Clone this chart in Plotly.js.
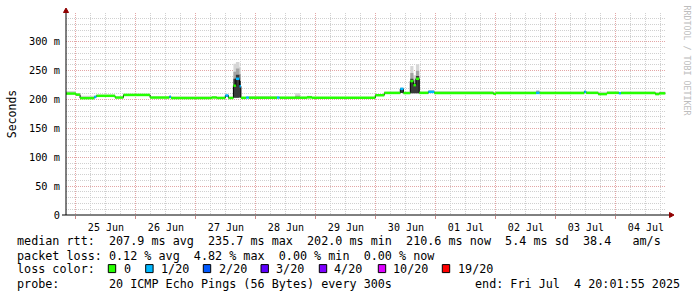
<!DOCTYPE html>
<html><head><meta charset="utf-8">
<script src="https://cdn.plot.ly/plotly-3.0.1.min.js"></script>
<style>html,body{margin:0;padding:0;background:#fff;}#chart{width:697px;height:297px;}</style>
</head><body><div id="chart"></div>
<script>
// ---------------- DATA ----------------
const rangeStart = '2025-06-24 20:01:55';
const rangeEnd = '2025-07-04 20:01:55';
const dataEnd = '2025-07-04 19:45';

const times = [
 '2025-06-24 20:02','2025-06-25 00:00','2025-06-25 01:40','2025-06-25 07:20','2025-06-25 08:10',
 '2025-06-25 15:40','2025-06-25 19:00','2025-06-26 05:40','2025-06-26 13:25','2025-06-26 14:00',
 '2025-06-27 06:20','2025-06-27 08:20','2025-06-27 11:45','2025-06-27 13:00','2025-06-27 15:00',
 '2025-06-27 16:00','2025-06-27 17:25','2025-06-27 18:00','2025-06-27 20:05','2025-06-27 21:10',
 '2025-06-28 08:25','2025-06-28 09:25','2025-06-28 15:40','2025-06-28 17:40','2025-06-28 20:25',
 '2025-06-28 22:25','2025-06-29 23:45','2025-06-30 03:20','2025-06-30 09:45','2025-06-30 11:00',
 '2025-06-30 13:45','2025-06-30 15:00','2025-06-30 16:00','2025-06-30 17:20','2025-06-30 21:00',
 '2025-06-30 23:20','2025-07-01 23:00','2025-07-02 00:00','2025-07-02 16:05','2025-07-02 17:25',
 '2025-07-03 11:20','2025-07-03 12:05','2025-07-03 16:55','2025-07-03 20:25','2025-07-04 01:10',
 '2025-07-04 02:00','2025-07-04 15:45','2025-07-04 17:20'
];
// median rtt (ms)
const median = [
 210.4,208.5,202.5,204.5,206.5, 203.5,208.0,203.5,205.0,202.8,
 203.6,202.8,207.0,202.8,224.0, 236.0,223.0,203.0,203.5,203.2,
 203.5,203.2,203.2,203.2,203.8, 203.0,207.5,211.5,218.5,211.3,
 232.0,225.0,236.0,211.6,213.3, 211.6,210.0,211.6,211.6,211.6,
 213.5,211.6,209.5,211.6,211.0, 211.6,209.5,210.8
];
// lost pings out of 20
const loss = [
 0,0,0,1,0, 0,0,0,1,0,
 0,0,1,0,0, 1,1,0,1,0,
 1,0,0,0,0, 0,0,0,1,0,
 0,0,0,0,1, 0,0,0,1,0,
 1,0,0,0,1, 0,0,0
];
// smoke (ping distribution) bounds, ms
const smokeLow = [
 210.4,208.5,202.5,204.5,206.5, 203.5,208.0,203.5,205.0,202.8,
 203.6,202.8,205.0,202.8,203.0, 203.0,204.0,203.0,203.5,203.2,
 203.5,203.2,203.2,203.2,203.8, 203.0,207.5,211.5,211.5,211.3,
 211.0,211.0,211.0,211.6,211.6, 211.6,210.0,211.6,211.6,211.6,
 211.6,211.6,209.5,211.6,211.0, 211.6,209.5,210.8
];
const smokeHigh = [
 215.0,211.0,206.5,207.0,208.5, 205.5,210.0,205.5,207.0,205.2,
 205.8,204.8,210.0,204.8,262.0, 265.0,257.0,205.0,205.5,206.0,
 205.5,204.8,211.0,204.8,206.5, 204.6,209.5,213.8,221.0,213.5,
 258.0,242.0,261.0,214.0,216.5, 215.0,212.5,214.0,216.5,213.8,
 215.5,214.0,213.5,214.5,213.5, 214.0,213.0,214.0
];
const smokeMid = [
 210.4,208.5,202.5,204.5,206.5, 203.5,208.0,203.5,205.0,202.8,
 203.6,202.8,208.0,202.8,248.0, 254.0,244.0,203.0,203.5,203.2,
 203.5,203.2,206.5,203.2,205.8, 203.0,207.5,211.5,219.0,211.3,
 246.0,234.0,250.0,211.6,215.5, 211.6,210.0,211.6,215.0,211.6,
 215.0,211.6,209.5,211.6,211.0, 211.6,209.5,210.8
];
const smokeCore = [
 210.4,208.5,202.5,204.5,206.5, 203.5,208.0,203.5,205.0,202.8,
 203.6,202.8,207.0,202.8,236.0, 243.0,232.0,203.0,203.5,203.2,
 203.5,203.2,203.2,203.2,203.8, 203.0,207.5,211.5,218.5,211.3,
 236.0,228.0,241.0,211.6,213.3, 211.6,210.0,211.6,211.6,211.6,
 214.0,211.6,209.5,211.6,211.0, 211.6,209.5,210.8
];

const yTickVals = [0, 50, 100, 150, 200, 250, 300];
const yTickText = ['0', '50 m', '100 m', '150 m', '200 m', '250 m', '300 m'];

const lossLevels = [0, 1, 2, 3, 4, 10, 19];
const lossLabels = ['0', '1/20', '2/20', '3/20', '4/20', '10/20', '19/20'];
const lossColors = ['#26ff00', '#00b8ff', '#0059ff', '#5e00ff', '#7e00ff', '#dd00ff', '#ff0000'];

const rttStats = ['207.9', '235.7', '202.0', '210.6', '5.4', '38.4'];
const lossStats = ['0.12', '4.82', '0.00', '0.00'];
const probeText = '20 ICMP Echo Pings (56 Bytes) every 300s';
const endText = 'end: Fri Jul  4 20:01:55 2025';
const watermark = 'RRDTOOL / TOBI OETIKER';

// ---------------- BUILD ----------------
const xs = times.concat([dataEnd]);
const ext = a => a.concat([a[a.length - 1]]);
const traces = [];
function band(lo, hi, color) {
  traces.push({x: xs, y: ext(lo), mode: 'lines', line: {shape: 'hv', width: 0}, hoverinfo: 'skip', showlegend: false});
  traces.push({x: xs, y: ext(hi), mode: 'lines', line: {shape: 'hv', width: 0}, fill: 'tonexty', fillcolor: color, hoverinfo: 'skip', showlegend: false});
}
band(smokeLow, smokeHigh, '#d6d6d6');
band(smokeLow, smokeMid, '#a4a4a4');
band(smokeLow, smokeCore, '#3a3a3a');
traces.push({x: xs, y: ext(median), mode: 'lines', line: {shape: 'hv', width: 1, color: '#000'}, hoverinfo: 'skip', showlegend: false});
lossLevels.forEach((lv, k) => {
  const sx = [], sy = [];
  for (let i = 0; i < times.length; i++) {
    if (loss[i] === lv) { sx.push(times[i], xs[i + 1], null); sy.push(median[i], median[i], null); }
  }
  if (sx.length) traces.push({x: sx, y: sy, mode: 'lines', line: {width: 2.5, color: lossColors[k]}, connectgaps: false, hoverinfo: 'skip', showlegend: false});
});

// ---------------- LAYOUT ----------------
const PL = 66, PW = 600, PT = 13, PH = 202;
const px = v => (v - PL) / PW;
const py = v => (PT + PH - v) / PH;
const MONO = 'DejaVu Sans Mono';
const S = s => s.replace(/ /g, '\u00a0');
const txt = (x, y, t, anchor) => ({xref: 'paper', yref: 'paper', x: px(x), y: py(y), text: S(t), showarrow: false,
  xanchor: anchor || 'left', yanchor: 'middle', font: {family: MONO, size: 11.75, color: '#000'}, borderpad: 0});

const ann = [];
ann.push(txt(16, 241.5, 'median rtt:  ' + rttStats[0] + ' ms avg  ' + rttStats[1] + ' ms max  ' + rttStats[2] + ' ms min  ' +
  rttStats[3] + ' ms now  ' + rttStats[4] + ' ms sd  ' + rttStats[5] + '   am/s'));
ann.push(txt(16, 255.5, 'packet loss: ' + lossStats[0] + ' % avg  ' + lossStats[1] + ' % max  ' + lossStats[2] + ' % min  ' + lossStats[3] + ' % now'));
ann.push(txt(16, 269, 'loss color:'));
ann.push(txt(16, 283.5, 'probe:       ' + probeText));
ann.push(txt(681, 283.5, endText, 'right'));
const boxX = [108.3, 145.7, 203.3, 261, 319.3, 378.3, 442.3];
const labX = [122.7, 160, 217.7, 275, 333.3, 392.3, 456.7];
const shapes = [];
lossLabels.forEach((l, k) => {
  ann.push(txt(labX[k], 269, l));
  shapes.push({type: 'rect', xref: 'paper', yref: 'paper', x0: px(boxX[k]), x1: px(boxX[k] + 7.4), y0: py(272.6), y1: py(264.6),
    fillcolor: lossColors[k], line: {color: '#000', width: 1}});
});
ann.push({xref: 'paper', yref: 'paper', x: px(686.5), y: py(60), text: watermark, textangle: 90, showarrow: false,
  xanchor: 'center', yanchor: 'middle', font: {family: MONO, size: 8.3, color: '#bdbdbd'}});

// axis extensions and arrows
shapes.push({type: 'line', xref: 'paper', yref: 'paper', x0: px(66), x1: px(66), y0: py(215), y1: py(9), line: {color: '#000', width: 1}});
shapes.push({type: 'line', xref: 'paper', yref: 'paper', x0: px(62), x1: px(671), y0: py(215), y1: py(215), line: {color: '#000', width: 1}});
shapes.push({type: 'path', xref: 'paper', yref: 'paper', fillcolor: '#900000', line: {color: '#900000', width: 1},
  path: 'M' + px(63.5) + ',' + py(12.5) + ' L' + px(68.5) + ',' + py(12.5) + ' L' + px(66) + ',' + py(8) + ' Z'});
shapes.push({type: 'path', xref: 'paper', yref: 'paper', fillcolor: '#900000', line: {color: '#900000', width: 1},
  path: 'M' + px(669.5) + ',' + py(212.5) + ' L' + px(669.5) + ',' + py(217.5) + ' L' + px(674) + ',' + py(215) + ' Z'});

const layout = {
  width: 697, height: 297,
  margin: {l: PL, r: 697 - PL - PW, t: PT, b: 297 - PT - PH},
  paper_bgcolor: '#fff', plot_bgcolor: '#fff',
  showlegend: false,
  xaxis: {
    type: 'date', range: [rangeStart, rangeEnd], tick0: '2025-06-25', dtick: 86400000,
    ticklabelmode: 'period', tickformat: '%d %b',
    showgrid: true, gridcolor: '#e3a6a6', griddash: '1px,1px', gridwidth: 1,
    minor: {tick0: '2025-06-25', dtick: 21600000, showgrid: true, gridcolor: '#d0d0d0', griddash: '1px,1px', ticks: ''},
    showline: false, zeroline: false, ticks: 'outside', ticklen: 3, tickcolor: '#c88',
    tickfont: {family: MONO, size: 10, color: '#000'}, fixedrange: true
  },
  yaxis: {
    range: [0, 350], tickmode: 'array', tickvals: yTickVals, ticktext: yTickText,
    showgrid: true, gridcolor: '#e3a6a6', griddash: '1px,1px', gridwidth: 1,
    minor: {tick0: 0, dtick: 10, showgrid: true, gridcolor: '#d0d0d0', griddash: '1px,1px', ticks: ''},
    showline: false, zeroline: false, ticks: 'outside', ticklen: 3, tickcolor: 'rgba(0,0,0,0)',
    tickfont: {family: MONO, size: 10.3, color: '#000'},
    title: {text: 'Seconds', font: {family: MONO, size: 11.5, color: '#000'}, standoff: 9}, fixedrange: true
  },
  annotations: ann,
  shapes: shapes
};
Plotly.newPlot('chart', traces, layout, {displayModeBar: false, staticPlot: true});
</script></body></html>
